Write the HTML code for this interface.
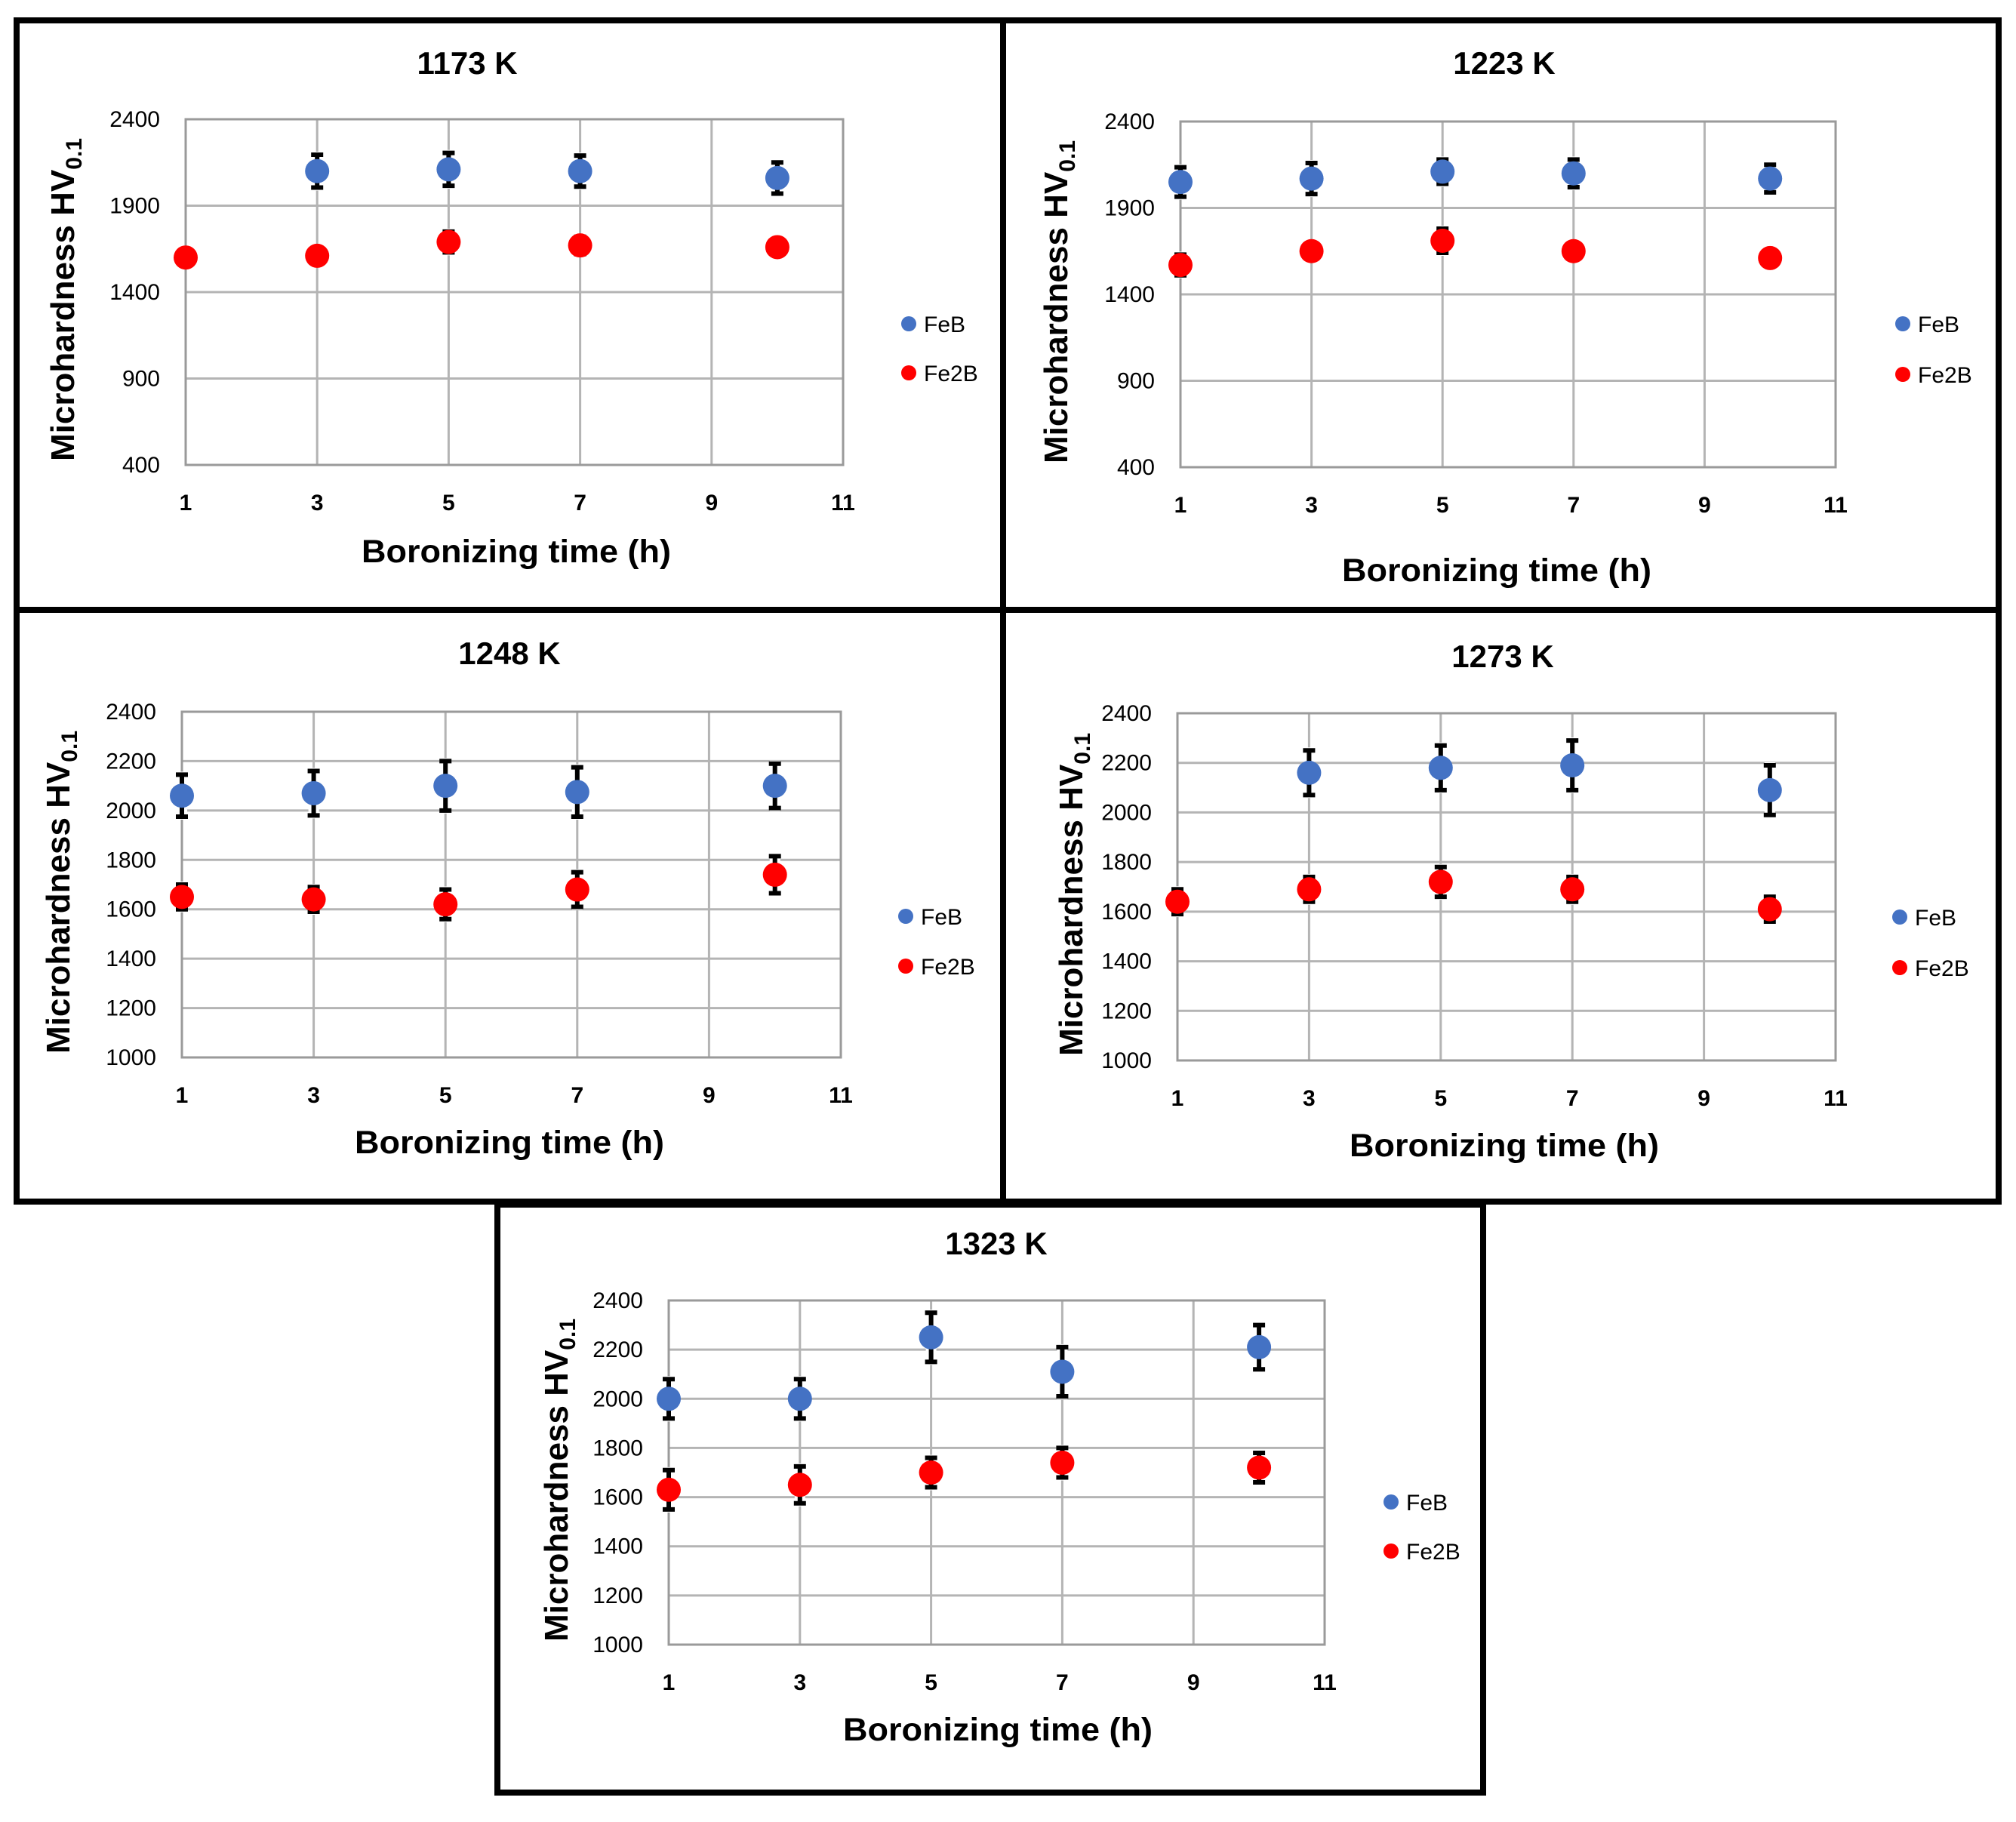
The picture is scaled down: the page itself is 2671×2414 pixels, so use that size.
<!DOCTYPE html>
<html><head><meta charset="utf-8"><style>
html,body{margin:0;padding:0;background:#fff;}
svg{display:block;}
text{font-family:"Liberation Sans",sans-serif;}
</style></head><body>
<svg id="fig" width="2671" height="2414" viewBox="0 0 2671 2414" xmlns="http://www.w3.org/2000/svg">
<g id="frames">
<rect x="22" y="27" width="2626" height="1565" fill="none" stroke="#000" stroke-width="8"/>
<line x1="1329" y1="27" x2="1329" y2="1592" stroke="#000" stroke-width="8"/>
<line x1="22" y1="808" x2="2648" y2="808" stroke="#000" stroke-width="8"/>
<rect x="659" y="1596" width="1306" height="779" fill="none" stroke="#000" stroke-width="8"/>
</g>
</svg>
<script>
// Shared x axis
const xTicks = [1, 3, 5, 7, 9, 11];
// Panel titles
const titles = ["1173 K", "1223 K", "1248 K", "1273 K", "1323 K"];
// Y ticks per panel
const yTicksA = [400, 900, 1400, 1900, 2400];
const yTicksB = [1000, 1200, 1400, 1600, 1800, 2000, 2200, 2400];

const feBTimes1 = [3, 5, 7, 10];
const feBVals1 = [2100, 2110, 2100, 2060];
const feBErr1 = [95, 95, 90, 90];
const fe2BTimes1 = [1, 3, 5, 7, 10];
const fe2BVals1 = [1600, 1610, 1690, 1670, 1660];
const fe2BErr1 = [25, 30, 60, 50, 40];

const feBTimes2 = [1, 3, 5, 7, 10];
const feBVals2 = [2050, 2070, 2110, 2100, 2070];
const feBErr2 = [85, 90, 70, 80, 80];
const fe2BTimes2 = [1, 3, 5, 7, 10];
const fe2BVals2 = [1570, 1650, 1710, 1650, 1610];
const fe2BErr2 = [60, 40, 70, 40, 40];

const feBTimes3 = [1, 3, 5, 7, 10];
const feBVals3 = [2060, 2070, 2100, 2075, 2100];
const feBErr3 = [85, 90, 100, 100, 90];
const fe2BTimes3 = [1, 3, 5, 7, 10];
const fe2BVals3 = [1650, 1640, 1620, 1680, 1740];
const fe2BErr3 = [50, 50, 60, 70, 75];

const feBTimes4 = [3, 5, 7, 10];
const feBVals4 = [2160, 2180, 2190, 2090];
const feBErr4 = [90, 90, 100, 100];
const fe2BTimes4 = [1, 3, 5, 7, 10];
const fe2BVals4 = [1640, 1690, 1720, 1690, 1610];
const fe2BErr4 = [50, 50, 60, 50, 50];

const feBTimes5 = [1, 3, 5, 7, 10];
const feBVals5 = [2000, 2000, 2250, 2110, 2210];
const feBErr5 = [80, 80, 100, 100, 90];
const fe2BTimes5 = [1, 3, 5, 7, 10];
const fe2BVals5 = [1630, 1650, 1700, 1740, 1720];
const fe2BErr5 = [80, 75, 60, 60, 60];

const NS = "http://www.w3.org/2000/svg";
const svg = document.getElementById("fig");
function mk(tag, attrs, parent) {
  const e = document.createElementNS(NS, tag);
  for (const k in attrs) e.setAttribute(k, attrs[k]);
  (parent || svg).appendChild(e);
  return e;
}

const layouts = [
  {L:246,R:1117,T:158,B:616,tx:619,ty:98,xty:676,xtly:745,xtx:684,ytx:84,lx:1204,ly1:429,ly2:494,yt:yTicksA},
  {L:1564,R:2432,T:161,B:619,tx:1993,ty:98,xty:679,xtly:770,xtx:1983,ytx:1400,lx:2521,ly1:429,ly2:496,yt:yTicksA},
  {L:241,R:1114,T:943,B:1401,tx:675,ty:880,xty:1461,xtly:1528,xtx:675,ytx:78,lx:1200,ly1:1214,ly2:1280,yt:yTicksB},
  {L:1560,R:2432,T:945,B:1405,tx:1991,ty:884,xty:1465,xtly:1532,xtx:1993,ytx:1420,lx:2517,ly1:1215,ly2:1282,yt:yTicksB},
  {L:886,R:1755,T:1723,B:2179,tx:1320,ty:1662,xty:2239,xtly:2306,xtx:1322,ytx:738,lx:1843,ly1:1990,ly2:2055,yt:yTicksB}
];
const series = [
  [feBTimes1,feBVals1,feBErr1,fe2BTimes1,fe2BVals1,fe2BErr1],
  [feBTimes2,feBVals2,feBErr2,fe2BTimes2,fe2BVals2,fe2BErr2],
  [feBTimes3,feBVals3,feBErr3,fe2BTimes3,fe2BVals3,fe2BErr3],
  [feBTimes4,feBVals4,feBErr4,fe2BTimes4,fe2BVals4,fe2BErr4],
  [feBTimes5,feBVals5,feBErr5,fe2BTimes5,fe2BVals5,fe2BErr5]
];
const BLUE = "#4472c4", RED = "#ff0000";

layouts.forEach((p, i) => {
  const g = mk("g", {});
  
  
  const yt = p.yt;
  const ymin = yt[0], ymax = yt[yt.length - 1];
  const xs = v => p.L + (v - 1) / 10 * (p.R - p.L);
  const ys = v => p.B - (v - ymin) / (ymax - ymin) * (p.B - p.T);

  const title = mk("text", {x:p.tx, y:p.ty, "text-anchor":"middle", "font-size":"42", "font-weight":"bold"}, g);
  title.textContent = titles[i];
  
  

  yt.forEach(v => {
    const ln = mk("line", {x1:p.L, x2:p.R, y1:ys(v), y2:ys(v), stroke:"#b4b4b4", "stroke-width":"3"}, g);
    
    
    const t = mk("text", {x:p.L - 34, y:ys(v) + 10, "text-anchor":"end", "font-size":"30"}, g);
    t.textContent = v;
    
    
  });
  xTicks.forEach(v => {
    const ln = mk("line", {x1:xs(v), x2:xs(v), y1:p.T, y2:p.B, stroke:"#b4b4b4", "stroke-width":"3"}, g);
    
    
    const t = mk("text", {x:xs(v), y:p.xty, "text-anchor":"middle", "font-size":"30", "font-weight":"bold"}, g);
    t.textContent = v;
    
    
  });
  const ax = mk("rect", {x:p.L, y:p.T, width:p.R - p.L, height:p.B - p.T, fill:"none", stroke:"#9a9a9a", "stroke-width":"3"}, g);
  
  

  const xt = mk("text", {x:p.xtx, y:p.xtly, "text-anchor":"middle", "font-size":"43", "font-weight":"bold", textLength:"410", lengthAdjust:"spacingAndGlyphs"}, g);
  xt.textContent = "Boronizing time (h)";
  
  

  const cy = (p.T + p.B) / 2 + 10;
  const ytl = mk("text", {x:0, y:0, "text-anchor":"middle", "font-size":"44", "font-weight":"bold", transform:`translate(${p.ytx + 14},${cy}) rotate(-90)`}, g);
  
  
  ytl.innerHTML = 'Microhardness HV<tspan font-size="30" dy="10">0.1</tspan>';

  const s = series[i];
  [[s[0], s[1], s[2], BLUE, "feb"], [s[3], s[4], s[5], RED, "fe2b"]].forEach(([tx, vals, errs, col, nm]) => {
    tx.forEach((t, j) => {
      const x = xs(t), y = ys(vals[j]), yh = ys(vals[j] + errs[j]), yl = ys(vals[j] - errs[j]);
      const bg = mk("line", {x1:x, x2:x, y1:yh - 4, y2:yl + 4, stroke:"#fff", "stroke-width":"14"}, g);
      
      
      const eb = mk("path", {d:`M${x},${yh}V${yl}M${x - 8},${yh}H${x + 8}M${x - 8},${yl}H${x + 8}`, stroke:"#000", "stroke-width":"6", fill:"none"}, g);
      
      
      const c = mk("circle", {cx:x, cy:y, r:16, fill:col}, g);
      
      
    });
  });

  [[p.ly1, BLUE, "FeB"], [p.ly2, RED, "Fe2B"]].forEach(([ly, col, lab]) => {
    const lc = mk("circle", {cx:p.lx, cy:ly, r:10, fill:col}, g);
    
    
    const lt = mk("text", {x:p.lx + 20, y:ly + 11, "font-size":"30"}, g);
    lt.textContent = lab;
    
    
  });
});
</script>
</body></html>
